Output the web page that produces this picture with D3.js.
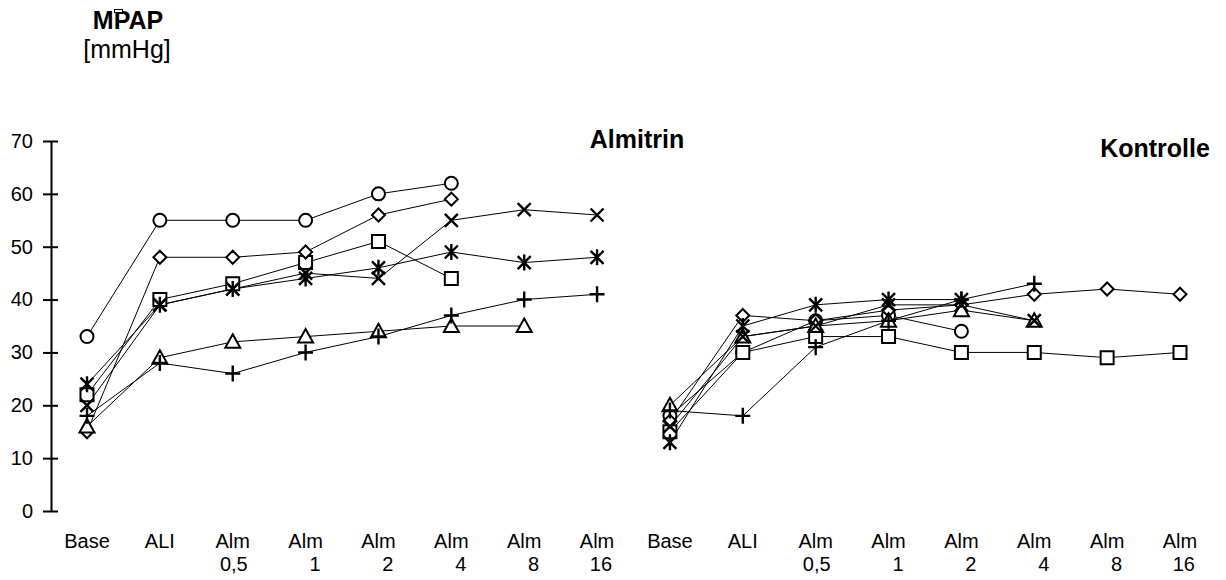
<!DOCTYPE html>
<html>
<head>
<meta charset="utf-8">
<script src="https://cdn.jsdelivr.net/npm/d3@7"></script>
<style>
  html, body { margin: 0; padding: 0; background: #fff; }
  svg { display: block; font-family: "Liberation Sans", Arial, sans-serif; }
</style>
</head>
<body>
<svg id="chart" width="1226" height="580"></svg>
<script>
// Time points per group (each group is drawn as its own panel)
const timePoints = ["Base", "ALI", "Alm 0,5", "Alm 1", "Alm 2", "Alm 4", "Alm 8", "Alm 16"];
const tickTop    = ["Base", "ALI", "Alm", "Alm", "Alm", "Alm", "Alm", "Alm"];
const tickBottom = ["", "", "0,5", "1", "2", "4", "8", "16"];
const groups = ["Almitrin", "Kontrolle"];
const yTicks = [0, 10, 20, 30, 40, 50, 60, 70];

// MPAP [mmHg] per animal, Almitrin group (null = no measurement)
const almCircle   = [33, 55, 55, 55, 60, 62, null, null];
const almSquare   = [22, 40, 43, 47, 51, 44, null, null];
const almDiamond  = [15, 48, 48, 49, 56, 59, null, null];
const almTriangle = [16, 29, 32, 33, 34, 35, 35, null];
const almCross    = [20, 39, 42, 45, 44, 55, 57, 56];
const almStar     = [24, 39, 42, 44, 46, 49, 47, 48];
const almPlus     = [18, 28, 26, 30, 33, 37, 40, 41];

// MPAP [mmHg] per animal, Kontrolle group
const ctlCircle   = [18, 30, 36, 37, 34, null, null, null];
const ctlSquare   = [15, 30, 33, 33, 30, 30, 29, 30];
const ctlDiamond  = [17, 37, 36, 38, 39, 41, 42, 41];
const ctlTriangle = [20, 33, 35, 36, 38, 36, null, null];
const ctlCross    = [16, 33, 35, 39, 39, 36, null, null];
const ctlStar     = [13, 35, 39, 40, 40, null, null, null];
const ctlPlus     = [19, 18, 31, 36, 40, 43, null, null];

const series = [
  { group: "Almitrin", marker: "circle",   values: almCircle },
  { group: "Almitrin", marker: "square",   values: almSquare },
  { group: "Almitrin", marker: "diamond",  values: almDiamond },
  { group: "Almitrin", marker: "triangle", values: almTriangle },
  { group: "Almitrin", marker: "cross",    values: almCross },
  { group: "Almitrin", marker: "star",     values: almStar },
  { group: "Almitrin", marker: "plus",     values: almPlus },
  { group: "Kontrolle", marker: "circle",   values: ctlCircle },
  { group: "Kontrolle", marker: "square",   values: ctlSquare },
  { group: "Kontrolle", marker: "diamond",  values: ctlDiamond },
  { group: "Kontrolle", marker: "triangle", values: ctlTriangle },
  { group: "Kontrolle", marker: "cross",    values: ctlCross },
  { group: "Kontrolle", marker: "star",     values: ctlStar },
  { group: "Kontrolle", marker: "plus",     values: ctlPlus }
];

const svg = d3.select("#chart");

// One shared point scale across both groups: 8 + 8 slots
const slots = [];
groups.forEach(g => timePoints.forEach(t => slots.push(g + "|" + t)));
const x = d3.scalePoint().domain(slots).range([87, 1180]);
const y = d3.scaleLinear().domain([0, 70]).range([511, 141]);

// Y axis with ticks crossing the axis line
const yAxis = svg.append("g")
  .attr("transform", "translate(51,0)")
  .call(d3.axisLeft(y).tickValues(yTicks).tickSizeInner(8).tickSizeOuter(0).tickPadding(10));
yAxis.select(".domain").attr("stroke", "#000").attr("stroke-width", 2);
yAxis.selectAll(".tick line").attr("x1", 7).attr("x2", -8).attr("stroke", "#000").attr("stroke-width", 2);
yAxis.selectAll(".tick text")
  .attr("font-size", 20)
  .attr("font-family", "Liberation Sans, Arial, sans-serif")
  .attr("fill", "#000")
  .attr("x", -18);

// Category labels (two lines) under each panel
const labelG = svg.append("g").attr("font-size", 20).attr("fill", "#000");
groups.forEach(g => {
  timePoints.forEach((t, i) => {
    const cx = x(g + "|" + t);
    labelG.append("text")
      .attr("x", cx).attr("y", 548)
      .attr("text-anchor", "middle")
      .text(tickTop[i]);
    if (tickBottom[i]) {
      labelG.append("text")
        .attr("x", cx + 15).attr("y", 571)
        .attr("text-anchor", "end")
        .text(tickBottom[i]);
    }
  });
});

// Connecting lines
const line = d3.line()
  .defined(d => d.v != null)
  .x(d => x(d.key))
  .y(d => y(d.v));

const pts = s => s.values.map((v, i) => ({ key: s.group + "|" + timePoints[i], v }));

svg.append("g")
  .selectAll("path")
  .data(series)
  .join("path")
  .attr("d", s => line(pts(s)))
  .attr("fill", "none")
  .attr("stroke", "#000")
  .attr("stroke-width", 1);

// Marker shapes
function markerPath(type) {
  switch (type) {
    case "circle": {
      const r = 6.5;
      return `M${-r},0A${r},${r} 0 1,0 ${r},0A${r},${r} 0 1,0 ${-r},0Z`;
    }
    case "square":   return "M-6.5,-6.5H6.5V6.5H-6.5Z";
    case "diamond":  return "M0,-6.5L6.5,0L0,6.5L-6.5,0Z";
    case "triangle": return "M0,-7.5L7.5,6L-7.5,6Z";
    case "cross":    return "M-6.5,-6.5L6.5,6.5M6.5,-6.5L-6.5,6.5";
    case "star":     return "M-6.5,-6.5L6.5,6.5M6.5,-6.5L-6.5,6.5M0,-8V8";
    case "plus":     return "M-7.5,0H7.5M0,-8V8";
  }
}
const openMarker = m => m === "cross" || m === "star" || m === "plus";

const markerG = svg.append("g");
series.forEach(s => {
  markerG.append("g")
    .selectAll("path")
    .data(pts(s).filter(d => d.v != null))
    .join("path")
    .attr("transform", d => `translate(${x(d.key)},${y(d.v)})`)
    .attr("d", markerPath(s.marker))
    .attr("fill", openMarker(s.marker) ? "none" : "#fff")
    .attr("stroke", "#000")
    .attr("stroke-width", openMarker(s.marker) ? 2.4 : 2);
});

// Panel titles
svg.append("text")
  .attr("x", 637).attr("y", 148)
  .attr("text-anchor", "middle")
  .attr("font-size", 25).attr("font-weight", "bold")
  .text("Almitrin");
svg.append("text")
  .attr("x", 1155).attr("y", 157)
  .attr("text-anchor", "middle")
  .attr("font-size", 25).attr("font-weight", "bold")
  .text("Kontrolle");

// Quantity and unit
svg.append("text")
  .attr("x", 128).attr("y", 29)
  .attr("text-anchor", "middle")
  .attr("font-size", 25).attr("font-weight", "bold")
  .text("MPAP");
// mean bar over the P
svg.append("rect")
  .attr("x", 114.5).attr("y", 9.5).attr("width", 8).attr("height", 3)
  .attr("fill", "#fff").attr("stroke", "#000").attr("stroke-width", 1);
svg.append("text")
  .attr("x", 127).attr("y", 58)
  .attr("text-anchor", "middle")
  .attr("font-size", 25)
  .text("[mmHg]");
</script>
</body>
</html>
